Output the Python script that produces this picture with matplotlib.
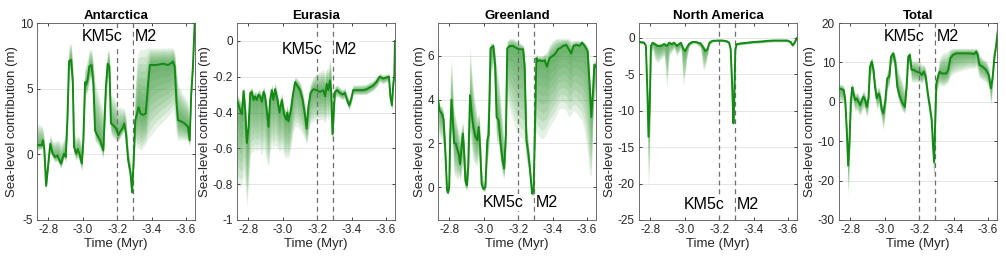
import matplotlib
matplotlib.use('Agg')
import matplotlib.pyplot as plt
import numpy as np

plt.rcParams['font.family'] = ['Liberation Sans', 'DejaVu Sans']
plt.rcParams['axes.unicode_minus'] = False

# --- data: time (Myr), median, upper and lower envelope (m)
ant_t = [-2.738, -2.763, -2.769, -2.777, -2.788, -2.802, -2.812, -2.825, -2.840, -2.854,
         -2.866, -2.875, -2.885, -2.892, -2.902, -2.912, -2.921, -2.933, -2.943, -2.950,
         -2.962, -2.971, -2.981, -2.995, -3.004, -3.014, -3.020, -3.029, -3.039, -3.052,
         -3.062, -3.072, -3.085, -3.101, -3.120, -3.135, -3.145, -3.155, -3.164, -3.178,
         -3.193, -3.207, -3.216, -3.232, -3.241, -3.251, -3.264, -3.278, -3.287, -3.297,
         -3.305, -3.316, -3.324, -3.336, -3.351, -3.366, -3.380, -3.390, -3.428, -3.467,
         -3.496, -3.515, -3.524, -3.534, -3.544, -3.553, -3.573, -3.592, -3.611, -3.621,
         -3.630, -3.640, -3.650]
ant_med = [0.7, 0.7, 1.07, 0.4, -2.4, -0.5, 0.8, 0.05, -0.2, -0.1,
           -0.5, -0.7, -0.2, 0.05, -0.2, 2.9, 7.1, 7.2, 5.4, 0.55,
           0.05, 0.4, 0.05, -0.7, 1.1, 5.5, 5.3, 5.7, 6.7, 6.8,
           5.4, 1.8, 1.45, 1.07, 0.3, 5.15, 6.9, 6.7, 2.35, 2.2,
           2.0, 1.45, 1.7, 2.0, 2.35, 1.6, -0.45, -1.5, -2.9, -0.2,
           2.6, 3.1, 3.6, 3.1, 3.0, 3.1, 5.4, 6.8, 6.8, 6.9,
           6.8, 6.95, 7.07, 6.7, 4.1, 2.6, 2.5, 2.35, 2.1, 1.07,
           4.6, 6.7, 10.0]
ant_hi = [2.3, 2.2, 2.0, 1.2, -1.5, 0.3, 1.5, 1.0, 1.0, 1.1,
          1.0, 0.8, 1.0, 1.2, 1.5, 4.5, 8.3, 8.5, 7.0, 1.8,
          1.2, 1.5, 1.3, 0.8, 2.5, 6.8, 6.8, 7.3, 8.0, 8.0,
          7.0, 5.5, 4.9, 4.1, 3.4, 6.5, 8.0, 7.8, 4.5, 4.4,
          4.0, 3.6, 3.6, 3.5, 3.5, 3.0, 0.5, -0.8, -2.3, 1.0,
          5.2, 7.4, 7.8, 8.0, 8.0, 8.0, 8.1, 8.1, 8.1, 8.1,
          8.1, 8.1, 8.1, 7.8, 6.5, 5.4, 4.8, 4.4, 4.0, 2.0,
          5.5, 7.2, 10.0]
ant_lo = [0.3, 0.4, 0.7, 0.0, -2.7, -0.9, 0.4, -0.3, -0.6, -0.5,
          -0.9, -1.1, -0.6, -0.3, -0.6, 2.0, 6.3, 6.5, 4.0, 0.0,
          -0.5, -0.2, -0.6, -1.3, 0.3, 4.5, 4.5, 4.8, 5.5, 5.8,
          4.0, 1.0, 0.8, 0.4, -0.3, 4.0, 5.8, 5.5, 1.5, 1.2,
          1.1, 1.0, 1.2, 1.6, 1.8, 1.0, -0.9, -1.9, -3.1, -0.7,
          1.0, 0.5, 0.5, 0.3, 0.5, 0.8, 1.2, 1.3, 2.0, 2.5,
          2.9, 3.2, 3.4, 3.0, 1.5, 1.1, 1.1, 1.1, 1.0, 0.6,
          4.0, 6.3, 9.8]

eur_t = [-2.738, -2.754, -2.763, -2.773, -2.783, -2.792, -2.802, -2.812, -2.821, -2.831,
         -2.840, -2.850, -2.860, -2.869, -2.879, -2.889, -2.898, -2.908, -2.918, -2.927,
         -2.937, -2.946, -2.956, -2.970, -2.981, -2.995, -3.008, -3.020, -3.027, -3.033,
         -3.047, -3.058, -3.072, -3.085, -3.101, -3.116, -3.129, -3.139, -3.149, -3.162,
         -3.178, -3.197, -3.216, -3.235, -3.247, -3.255, -3.264, -3.274, -3.282, -3.289,
         -3.297, -3.303, -3.316, -3.332, -3.347, -3.361, -3.374, -3.386, -3.399, -3.409,
         -3.428, -3.447, -3.467, -3.486, -3.505, -3.524, -3.544, -3.563, -3.582, -3.602,
         -3.617, -3.625, -3.634, -3.642, -3.648, -3.652]
eur_med = [-0.34, -0.39, -0.41, -0.28, -0.39, -0.57, -0.48, -0.29, -0.285, -0.33,
           -0.31, -0.33, -0.30, -0.31, -0.34, -0.285, -0.31, -0.39, -0.48, -0.33,
           -0.275, -0.33, -0.27, -0.33, -0.40, -0.33, -0.41, -0.44, -0.40, -0.45,
           -0.39, -0.31, -0.23, -0.25, -0.275, -0.33, -0.41, -0.49, -0.37, -0.29,
           -0.27, -0.275, -0.285, -0.275, -0.31, -0.24, -0.275, -0.22, -0.29, -0.52,
           -0.39, -0.285, -0.275, -0.29, -0.30, -0.29, -0.33, -0.36, -0.32, -0.275,
           -0.275, -0.275, -0.275, -0.27, -0.26, -0.25, -0.23, -0.20, -0.21, -0.205,
           -0.20, -0.31, -0.36, -0.24, -0.19, 0.0]
eur_hi = [-0.30, -0.33, -0.35, -0.25, -0.33, -0.50, -0.42, -0.26, -0.26, -0.29,
          -0.28, -0.29, -0.27, -0.28, -0.30, -0.25, -0.28, -0.34, -0.42, -0.29,
          -0.24, -0.29, -0.23, -0.29, -0.35, -0.29, -0.36, -0.39, -0.35, -0.40,
          -0.34, -0.27, -0.20, -0.21, -0.23, -0.28, -0.35, -0.43, -0.31, -0.24,
          -0.20, -0.18, -0.17, -0.16, -0.18, -0.15, -0.16, -0.10, -0.15, -0.45,
          -0.33, -0.25, -0.245, -0.26, -0.27, -0.26, -0.30, -0.33, -0.29, -0.245,
          -0.245, -0.245, -0.245, -0.24, -0.23, -0.22, -0.20, -0.18, -0.19, -0.185,
          -0.18, -0.28, -0.33, -0.21, -0.17, 0.0]
eur_lo = [-0.80, -0.82, -0.80, -0.75, -0.80, -0.93, -0.80, -0.65, -0.62, -0.62,
          -0.60, -0.62, -0.60, -0.62, -0.64, -0.60, -0.63, -0.68, -0.70, -0.62,
          -0.58, -0.60, -0.58, -0.60, -0.62, -0.60, -0.64, -0.66, -0.64, -0.66,
          -0.60, -0.52, -0.48, -0.48, -0.50, -0.52, -0.55, -0.58, -0.52, -0.46,
          -0.45, -0.44, -0.44, -0.44, -0.46, -0.42, -0.44, -0.42, -0.46, -0.58,
          -0.45, -0.32, -0.31, -0.32, -0.33, -0.32, -0.36, -0.39, -0.35, -0.30,
          -0.30, -0.30, -0.30, -0.30, -0.29, -0.28, -0.26, -0.23, -0.24, -0.23,
          -0.23, -0.34, -0.39, -0.27, -0.22, -0.02]

grl_t = [-2.735, -2.744, -2.758, -2.767, -2.777, -2.787, -2.792, -2.800, -2.806, -2.813,
         -2.821, -2.829, -2.838, -2.848, -2.856, -2.863, -2.871, -2.879, -2.887, -2.894,
         -2.902, -2.910, -2.921, -2.929, -2.940, -2.952, -2.963, -2.971, -2.979, -2.988,
         -2.998, -3.010, -3.021, -3.029, -3.040, -3.056, -3.067, -3.075, -3.087, -3.098,
         -3.110, -3.119, -3.129, -3.137, -3.152, -3.171, -3.190, -3.210, -3.229, -3.238,
         -3.248, -3.260, -3.271, -3.281, -3.290, -3.296, -3.306, -3.315, -3.325, -3.340,
         -3.354, -3.367, -3.383, -3.402, -3.417, -3.431, -3.444, -3.460, -3.479, -3.494,
         -3.508, -3.521, -3.537, -3.556, -3.571, -3.587, -3.604, -3.613, -3.625, -3.635,
         -3.642, -3.652]
grl_med = [4.0, 3.5, 3.35, 3.1, 1.7, -0.1, -0.25, 0.0, 2.45, 4.0,
           3.05, 2.0, 2.0, 1.7, 1.5, 1.05, 1.8, 2.45, 1.5, 0.3,
           0.08, 0.9, 4.2, 3.5, 2.75, 2.3, 2.15, 2.75, 1.85, 0.15,
           -0.08, 0.0, 2.15, 2.4, 6.35, 6.45, 5.5, 3.2, 3.05, 2.0,
           1.2, 0.85, 2.45, 6.35, 6.45, 6.45, 6.35, 6.3, 6.3, 5.5,
           2.15, 1.5, 0.6, -0.3, -0.15, 2.15, 5.9, 5.75, 5.8, 5.75,
           5.8, 5.5, 5.9, 6.0, 6.1, 6.3, 6.35, 6.45, 6.5, 6.3,
           6.1, 6.45, 6.5, 6.45, 6.6, 6.45, 6.2, 4.9, 3.2, 4.45,
           5.6, 5.5]
grl_hi = [4.1, 3.8, 3.7, 3.5, 2.3, 0.3, 0.1, 0.8, 5.0, 5.9,
          4.5, 3.5, 3.2, 2.8, 2.5, 2.3, 2.8, 3.0, 2.3, 1.2,
          0.6, 2.0, 6.4, 5.5, 4.5, 3.8, 3.2, 3.4, 2.8, 1.0,
          0.2, 0.5, 3.5, 4.5, 6.6, 6.6, 6.2, 5.5, 5.0, 4.0,
          3.0, 2.0, 4.0, 6.7, 6.8, 6.8, 6.7, 6.6, 6.5, 6.0,
          3.0, 2.0, 1.0, 0.0, 0.3, 3.5, 6.1, 6.0, 6.0, 6.0,
          6.1, 6.2, 6.5, 6.7, 6.8, 6.8, 6.8, 6.8, 6.8, 6.8,
          6.7, 6.7, 6.7, 6.7, 6.7, 6.6, 6.4, 5.5, 4.0, 5.0,
          5.8, 5.7]
grl_lo = [2.5, 2.3, 2.2, 1.8, 0.8, -0.3, -0.35, -0.2, 1.5, 2.5,
          1.5, 0.5, 0.5, 0.3, 0.5, 0.3, 0.6, 1.0, 0.2, -0.1,
          -0.15, 0.2, 2.5, 1.8, 1.2, 1.0, 1.0, 1.5, 0.8, -0.1,
          -0.2, -0.2, 1.2, 1.5, 5.0, 5.5, 3.5, 2.0, 2.0, 1.0,
          0.5, 0.4, 1.5, 4.0, 3.5, 3.0, 2.5, 2.3, 2.2, 2.0,
          1.2, 0.8, 0.2, -0.4, -0.4, 1.5, 2.6, 2.4, 2.3, 2.2,
          2.3, 2.5, 2.8, 3.0, 3.2, 3.5, 3.6, 3.6, 3.5, 3.2,
          3.3, 3.5, 3.4, 3.2, 3.0, 2.5, 1.5, 0.6, 0.5, 3.0,
          4.0, 4.2]

nam_t = [-2.740, -2.765, -2.775, -2.785, -2.790, -2.798, -2.804, -2.814, -2.827, -2.842,
         -2.862, -2.881, -2.897, -2.910, -2.924, -2.939, -2.954, -2.968, -2.978, -2.993,
         -3.003, -3.012, -3.026, -3.045, -3.064, -3.093, -3.109, -3.120, -3.132, -3.144,
         -3.161, -3.190, -3.219, -3.244, -3.258, -3.267, -3.275, -3.283, -3.288, -3.294,
         -3.302, -3.325, -3.364, -3.402, -3.441, -3.480, -3.518, -3.557, -3.595, -3.615,
         -3.626, -3.638, -3.649, -3.659]
nam_med = [-0.6, -0.7, -1.15, -8.5, -13.6, -8.5, -1.15, -0.7, -0.9, -1.15,
           -1.15, -0.9, -1.15, -0.7, -0.9, -0.7, -1.15, -0.9, -0.7, -1.6,
           -1.85, -1.4, -0.85, -0.6, -0.6, -0.8, -1.4, -1.85, -1.6, -0.7,
           -0.45, -0.4, -0.4, -0.5, -0.7, -1.6, -6.2, -11.75, -8.5, -1.6,
           -0.9, -0.8, -0.7, -0.6, -0.55, -0.45, -0.4, -0.4, -0.4, -0.6,
           -1.05, -0.7, -0.15, 0.15]
nam_hi = [-0.4, -0.5, -0.9, -7.0, -12.0, -6.0, -0.9, -0.5, -0.6, -0.8,
          -0.8, -0.6, -0.8, -0.5, -0.6, -0.5, -0.8, -0.6, -0.5, -1.2,
          -1.4, -1.0, -0.6, -0.4, -0.4, -0.6, -1.0, -1.4, -1.2, -0.5,
          -0.3, -0.25, -0.25, -0.3, -0.5, -1.2, -5.5, -11.0, -7.5, -1.2,
          -0.7, -0.6, -0.5, -0.4, -0.35, -0.3, -0.25, -0.25, -0.25, -0.4,
          -0.8, -0.5, 0.0, 0.3]
nam_lo = [-0.8, -0.9, -1.5, -12.0, -21.0, -14.0, -3.0, -1.5, -3.0, -3.5,
          -3.0, -2.5, -6.9, -2.5, -2.0, -1.5, -2.5, -2.0, -1.5, -6.7,
          -5.0, -3.0, -1.2, -0.8, -0.8, -1.5, -4.6, -4.0, -2.5, -1.0,
          -0.6, -0.55, -0.55, -0.7, -0.9, -2.0, -7.0, -12.3, -9.5, -2.0,
          -1.1, -1.0, -0.9, -0.8, -0.75, -0.65, -0.6, -0.6, -0.6, -0.8,
          -1.3, -0.9, -0.3, 0.0]

tot_t = [-2.737, -2.752, -2.762, -2.771, -2.781, -2.788, -2.796, -2.804, -2.812, -2.819,
         -2.829, -2.838, -2.848, -2.858, -2.867, -2.877, -2.887, -2.896, -2.906, -2.915,
         -2.925, -2.935, -2.944, -2.954, -2.965, -2.973, -2.983, -2.992, -3.004, -3.015,
         -3.027, -3.037, -3.050, -3.062, -3.073, -3.088, -3.104, -3.117, -3.127, -3.137,
         -3.146, -3.156, -3.169, -3.185, -3.204, -3.215, -3.227, -3.238, -3.250, -3.262,
         -3.273, -3.281, -3.287, -3.294, -3.300, -3.312, -3.319, -3.329, -3.342, -3.358,
         -3.369, -3.381, -3.396, -3.415, -3.454, -3.492, -3.521, -3.531, -3.540, -3.550,
         -3.569, -3.588, -3.604, -3.617, -3.627, -3.637, -3.646, -3.656]
tot_med = [3.4, 3.15, 3.0, 0.4, -8.1, -16.2, -9.8, 0.4, 3.65, 2.1,
           0.4, 0.85, 0.0, -0.85, 0.4, 1.3, 0.4, -1.3, 0.85, 8.9,
           10.2, 8.1, 3.8, 0.85, 2.1, 1.3, -2.1, -3.0, 0.4, 5.95,
           6.4, 11.5, 12.3, 9.8, 3.8, 1.3, -0.4, -1.3, 3.8, 11.5,
           11.9, 8.1, 8.1, 7.65, 7.4, 6.8, 7.65, 6.4, 2.1, -1.3,
           -4.7, -11.5, -15.3, -3.8, 4.7, 6.8, 7.65, 7.2, 7.2, 7.2,
           8.1, 11.05, 11.9, 12.3, 12.3, 12.3, 12.15, 12.75, 11.9, 9.35,
           8.9, 8.1, 6.8, 3.4, 6.4, 11.5, 14.0, 17.85]
tot_hi = [4.5, 4.5, 4.0, 2.0, -6.0, -13.0, -7.0, 2.0, 5.0, 3.5,
          2.0, 2.5, 2.0, 1.0, 2.0, 3.0, 2.0, 0.5, 3.0, 10.5,
          11.5, 9.5, 6.0, 3.0, 4.0, 3.0, 0.0, -1.0, 2.5, 8.0,
          9.0, 12.5, 13.0, 12.0, 9.0, 7.0, 5.0, 3.0, 6.0, 12.5,
          12.8, 10.5, 10.5, 10.5, 10.2, 9.5, 9.5, 8.5, 4.0, 0.5,
          -3.0, -9.5, -13.0, -1.0, 6.5, 9.0, 11.0, 12.0, 12.5, 12.5,
          13.0, 13.5, 13.6, 13.6, 13.6, 13.6, 13.6, 13.6, 13.3, 12.0,
          11.0, 10.5, 9.0, 5.0, 8.0, 12.5, 14.5, 18.0]
tot_lo = [0.0, 0.0, -0.5, -2.0, -13.0, -24.0, -16.0, -3.0, 0.5, -1.0,
          -2.5, -2.0, -3.0, -3.5, -2.5, -1.5, -2.5, -4.0, -2.0, 6.0,
          7.5, 5.0, 1.0, -2.0, -1.0, -2.0, -5.0, -7.2, -3.0, 3.0,
          4.0, 9.5, 10.0, 7.0, 1.5, -1.0, -2.5, -3.0, 1.5, 9.0,
          9.5, 5.0, 5.0, 5.0, 5.0, 4.5, 5.5, 4.0, 0.0, -3.0,
          -7.0, -16.0, -20.0, -8.0, 2.0, 4.0, 4.5, 4.0, 4.0, 4.5,
          5.0, 6.5, 7.0, 7.5, 8.0, 8.5, 8.5, 9.0, 7.5, 6.0,
          5.5, 5.0, 3.5, -1.0, 4.0, 10.0, 13.0, 17.0]

titles = ['Antarctica', 'Eurasia', 'Greenland', 'North America', 'Total']
ylims = [(-5, 10), (-1, 0.1), (-1.5, 7.5), (-25, 2), (-30, 20)]
yticks = [[-5, 0, 5, 10],
          [-1, -0.8, -0.6, -0.4, -0.2, 0],
          [0, 2, 4, 6],
          [-25, -20, -15, -10, -5, 0],
          [-30, -20, -10, 0, 10, 20]]
ytick_labels = [['-5', '0', '5', '10'],
                ['-1', '-0.8', '-0.6', '-0.4', '-0.2', '0'],
                ['0', '2', '4', '6'],
                ['-25', '-20', '-15', '-10', '-5', '0'],
                ['-30', '-20', '-10', '0', '10', '20']]
xticks = [-2.8, -3.0, -3.2, -3.4, -3.6]
xtick_labels = ['-2.8', '-3.0', '-3.2', '-3.4', '-3.6']
event_times = [-3.2, -3.29]
event_names = ['KM5c', 'M2']
label_y = [8.95, -0.05, -0.7, -22.9, 16.7]

series = [(ant_t, ant_med, ant_hi, ant_lo),
          (eur_t, eur_med, eur_hi, eur_lo),
          (grl_t, grl_med, grl_hi, grl_lo),
          (nam_t, nam_med, nam_hi, nam_lo),
          (tot_t, tot_med, tot_hi, tot_lo)]

GREEN = '#138a13'
SHADE = '#3a9a3a'
TXT = '#262626'

fig = plt.figure(figsize=(10.06, 2.6), dpi=100)
lefts = [37, 237, 438, 639, 839]

for i, (t, med, hi, lo) in enumerate(series):
    ax = fig.add_axes([lefts[i] / 1006, 40 / 260, 158 / 1006, 197 / 260])
    t = np.array(t)
    med = np.array(med)
    hi = np.array(hi)
    lo = np.array(lo)

    # layered percentile shading, densest near the median
    n_layers = 9
    for k in range(n_layers, 0, -1):
        f = k / n_layers
        ax.fill_between(t, med + (lo - med) * f, med + (hi - med) * f,
                        color=SHADE, alpha=0.13, linewidth=0, zorder=2)

    for et in event_times:
        ax.axvline(et, color='#6e6e6e', lw=0.9, ls=(0, (4, 3)), zorder=2.5)
    ax.plot(t, med, color=GREEN, lw=1.4, zorder=3)

    ax.text(-2.997, label_y[i], event_names[0], ha='left', va='center',
            fontsize=11.5, color='black', zorder=5,
            bbox=dict(facecolor='white', edgecolor='none', pad=1.0))
    ax.text(-3.305, label_y[i], event_names[1], ha='left', va='center',
            fontsize=11.5, color='black', zorder=5,
            bbox=dict(facecolor='white', edgecolor='none', pad=1.0))

    ax.set_xlim(-2.735, -3.652)
    ax.set_ylim(*ylims[i])
    ax.set_xticks(xticks)
    ax.set_xticklabels(xtick_labels)
    ax.set_yticks(yticks[i])
    ax.set_yticklabels(ytick_labels[i])
    ax.yaxis.grid(True, color='#e6e6e6', lw=0.7)
    ax.set_axisbelow(True)
    ax.tick_params(direction='in', length=2.5, width=0.6, top=True, right=True,
                   labelsize=8.5, colors=TXT, pad=3)
    for sp in ax.spines.values():
        sp.set_color('#555555')
        sp.set_linewidth(0.6)
    ax.set_title(titles[i], fontsize=9.5, fontweight='bold', pad=3)
    ax.set_xlabel('Time (Myr)', fontsize=9.5, color=TXT, labelpad=1)
    ax.set_ylabel('Sea-level contribution (m)', fontsize=9.5, color=TXT, labelpad=1)

fig.savefig('out.png', dpi=100)
